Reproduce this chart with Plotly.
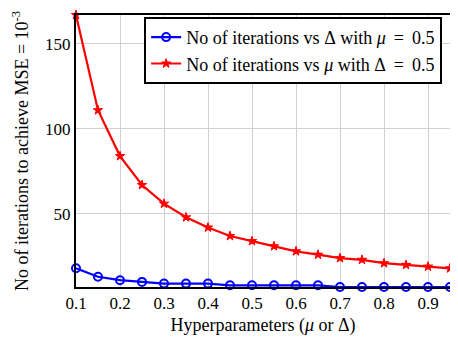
import plotly.graph_objects as go

x_vals = [0.1, 0.15, 0.2, 0.25, 0.3, 0.35, 0.4, 0.45, 0.5, 0.55, 0.6, 0.65, 0.7, 0.75, 0.8, 0.85, 0.9, 0.95]
iters_vs_delta = [18, 13, 11, 10, 9, 9, 9, 8, 8, 8, 8, 8, 7, 7, 7, 7, 7, 7]
iters_vs_mu = [167, 111, 84, 67, 56, 48, 42, 37, 34, 31, 28, 26, 24, 23, 21, 20, 19, 18]
x_ticks = [0.1, 0.2, 0.3, 0.4, 0.5, 0.6, 0.7, 0.8, 0.9]
y_ticks = [50, 100, 150]

FONT = "Liberation Serif, DejaVu Serif, serif"
SP = "\u2009"
NB = "\u00a0"

fig = go.Figure()
fig.add_trace(go.Scatter(
    x=x_vals, y=iters_vs_delta, mode="lines+markers",
    name=f"No{NB}of{NB}iterations{NB}vs{NB}Δ{NB}with{NB}<i>μ</i>{NB}{SP}={NB}{SP}0.5",
    line=dict(color="blue", width=2.2),
    marker=dict(symbol="circle-open", size=8, color="blue", line=dict(width=2, color="blue")),
    cliponaxis=False,
))
fig.add_trace(go.Scatter(
    x=x_vals, y=iters_vs_mu, mode="lines+markers",
    name=f"No{NB}of{NB}iterations{NB}vs{NB}<i>μ</i>{NB}with{NB}Δ{NB}{SP}={NB}{SP}0.5",
    line=dict(color="red", width=2.2),
    marker=dict(symbol="star", size=7, color="red", line=dict(width=1, color="red")),
    cliponaxis=False,
))

# page body adds an 8px offset, so the figure is 8px smaller than the window
fig.update_layout(
    width=450, height=331,
    margin=dict(l=68, r=8, t=7, b=52),
    paper_bgcolor="white", plot_bgcolor="white",
    font=dict(family=FONT, size=17, color="black"),
    showlegend=True,
    legend=dict(
        x=0.979, y=0.993, xanchor="right", yanchor="top",
        bordercolor="black", borderwidth=2, bgcolor="white",
        font=dict(family=FONT, size=18),
        tracegroupgap=0, itemwidth=30,
    ),
    xaxis=dict(
        range=[0.1, 0.95], tickvals=x_ticks, ticktext=[str(v) for v in x_ticks],
        showgrid=True, gridcolor="#d0d0d0", gridwidth=1,
        showline=True, linecolor="black", linewidth=2, mirror=True,
        ticks="", zeroline=False, automargin=False,
        title=dict(text="Hyperparameters (<i>μ</i> or Δ)", standoff=6, font=dict(family=FONT, size=18)),
        tickfont=dict(family=FONT, size=17),
    ),
    yaxis=dict(
        range=[7, 167], tickvals=y_ticks,
        showgrid=True, gridcolor="#d0d0d0", gridwidth=1,
        showline=True, linecolor="black", linewidth=2, mirror=True,
        ticks="", zeroline=False, automargin=False,
        title=dict(text="No of iterations to achieve MSE = 10<sup>-3</sup>", standoff=12, font=dict(family=FONT, size=18)),
        tickfont=dict(family=FONT, size=17),
    ),
)

fig.write_html("out.html")
